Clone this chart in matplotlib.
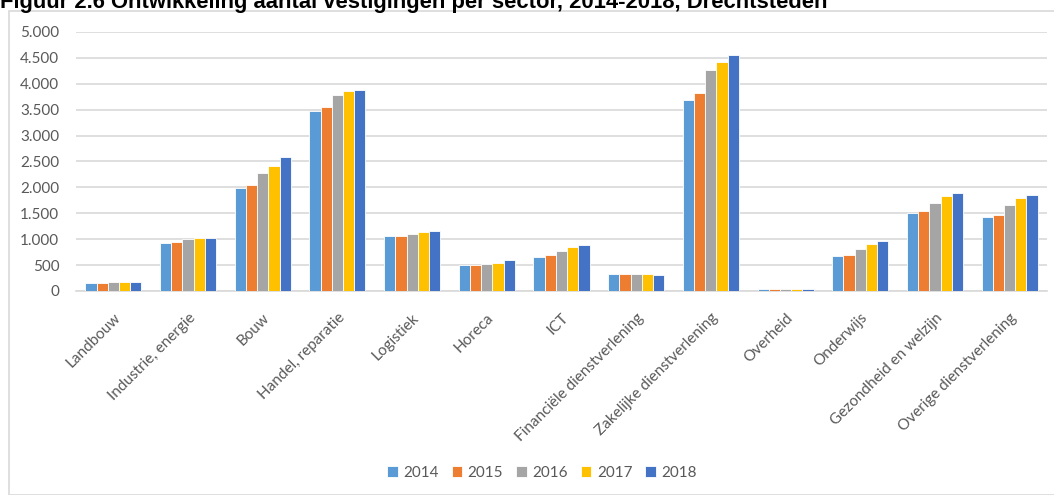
import matplotlib.pyplot as plt
import numpy as np
from matplotlib.patches import Rectangle
from matplotlib.ticker import FuncFormatter

sectors = [
    "Landbouw", "Industrie, energie", "Bouw", "Handel, reparatie", "Logistiek",
    "Horeca", "ICT", "Financiële dienstverlening", "Zakelijke dienstverlening",
    "Overheid", "Onderwijs", "Gezondheid en welzijn", "Overige dienstverlening",
]
years = ["2014", "2015", "2016", "2017", "2018"]

v2014 = [155, 925, 1990, 3470, 1060, 495, 655, 335, 3680, 30, 670, 1510, 1435]
v2015 = [155, 945, 2045, 3555, 1060, 495, 695, 335, 3820, 30, 690, 1545, 1475]
v2016 = [170, 995, 2280, 3785, 1100, 530, 770, 335, 4265, 30, 815, 1690, 1655]
v2017 = [172, 1015, 2420, 3860, 1140, 548, 840, 322, 4425, 30, 905, 1835, 1790]
v2018 = [172, 1030, 2580, 3875, 1158, 590, 888, 302, 4550, 30, 960, 1885, 1848]
series = [v2014, v2015, v2016, v2017, v2018]

colors = ["#5B9BD5", "#ED7D31", "#A5A5A5", "#FFC000", "#4472C4"]
text_grey = "#595959"

plt.rcParams["font.family"] = ["Lato", "DejaVu Sans"]

fig = plt.figure(figsize=(10.54, 4.95), dpi=100)
W, H = 1054, 495

# light grey frame around the chart area
fig.patches.append(Rectangle((9 / W, 0), 1.2, (H - 11) / H, transform=fig.transFigure,
                             fill=False, edgecolor="#D9D9D9", linewidth=1.2))

fig.text(0, 1 - 8 / H, "Figuur 2.6 Ontwikkeling aantal vestigingen per sector, 2014-2018, Drechtsteden",
         family="Liberation Sans", weight="bold", fontsize=15.8, va="baseline", ha="left")

ax = fig.add_axes([76 / W, 1 - 291 / H, (1047 - 76) / W, (291 - 32) / H])

x = np.arange(len(sectors))
bw = 0.15
for i, (yr, vals) in enumerate(zip(years, series)):
    ax.bar(x + (i - 2) * bw, vals, width=bw, color=colors[i], label=yr,
           edgecolor="white", linewidth=0.6, zorder=3)

ax.set_xlim(-0.5, len(sectors) - 0.5)
ax.set_ylim(0, 5000)
ax.set_yticks(np.arange(0, 5001, 500))
ax.yaxis.set_major_formatter(FuncFormatter(lambda v, _: f"{int(v):,}".replace(",", ".")))
ax.grid(axis="y", color="#D9D9D9", linewidth=1.2, zorder=0)
for s in ["top", "right", "left"]:
    ax.spines[s].set_visible(False)
ax.spines["bottom"].set_color("#D9D9D9")
ax.spines["bottom"].set_linewidth(1.2)
ax.tick_params(axis="both", length=0, colors=text_grey, labelsize=11)
ax.tick_params(axis="y", pad=12)

ax.set_xticks(x)
ax.set_xticklabels(sectors, rotation=45, ha="right", rotation_mode="anchor")
ax.tick_params(axis="x", pad=14)

ax.legend(loc="center", bbox_to_anchor=(542 / W, 1 - 473 / H), bbox_transform=fig.transFigure,
          ncol=5, frameon=False, fontsize=11, labelcolor=text_grey, handlelength=0.7,
          handleheight=0.7, handletextpad=0.35, columnspacing=0.85)

fig.savefig("out.png", dpi=100)
